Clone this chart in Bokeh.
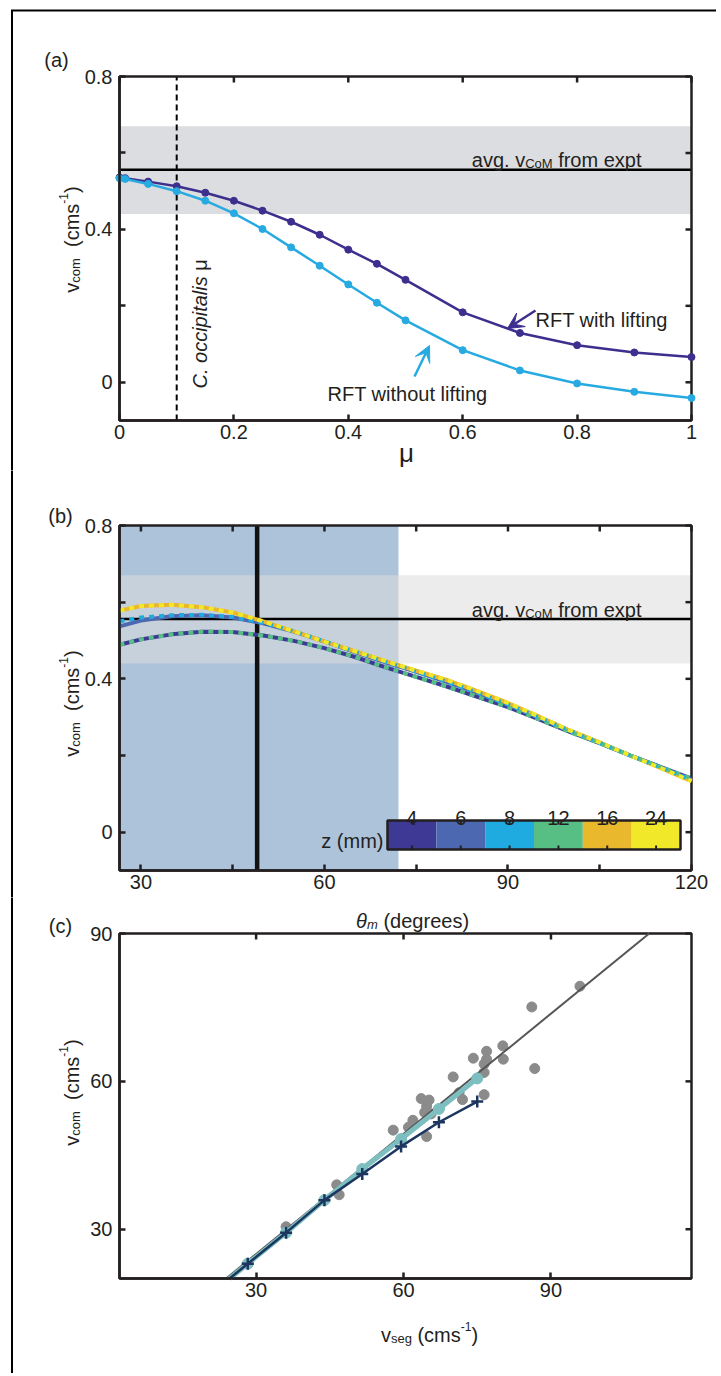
import math
from bokeh.plotting import figure
from bokeh.models import Range1d, LinearAxis, FixedTicker, Label, BoxAnnotation, Arrow, VeeHead
from bokeh.layouts import column
from bokeh.embed import file_html
from bokeh.resources import INLINE

FONT = "Liberation Sans"
INK = "#231f20"

# ---------------- data: panel (a) ----------------
mu = [0, 0.01, 0.05, 0.1, 0.15, 0.2, 0.25, 0.3, 0.35, 0.4, 0.45, 0.5, 0.6, 0.7, 0.8, 0.9, 1.0]
v_with_lifting = [0.536, 0.534, 0.525, 0.513, 0.496, 0.475, 0.449, 0.420, 0.386, 0.347,
                  0.310, 0.268, 0.183, 0.129, 0.097, 0.078, 0.066]
v_without_lifting = [0.534, 0.532, 0.519, 0.500, 0.475, 0.442, 0.401, 0.353, 0.305, 0.256,
                     0.208, 0.162, 0.084, 0.031, -0.003, -0.025, -0.041]
avg_vcom_expt = 0.556
avg_band_low, avg_band_high = 0.44, 0.67
mu_occipitalis = 0.1

# ---------------- data: panel (b) ----------------
theta_m = [26.5, 30, 35, 40, 45, 50, 55, 60, 65, 70, 75, 80, 85, 90, 95, 100, 105, 110, 115, 120]
z_labels = ["4", "6", "8", "12", "16", "24"]
z_colors = ["#3f3996", "#4c68b0", "#1fabe0", "#58bf84", "#e9b82c", "#f2e82a"]
v_z4 = [0.489, 0.503, 0.516, 0.523, 0.522, 0.513, 0.499, 0.480, 0.457, 0.430,
        0.405, 0.380, 0.353, 0.326, 0.295, 0.262, 0.232, 0.200, 0.170, 0.140]
v_z6 = [0.537, 0.552, 0.563, 0.566, 0.560, 0.545, 0.523, 0.497, 0.470, 0.443,
        0.418, 0.392, 0.364, 0.333, 0.300, 0.265, 0.233, 0.200, 0.169, 0.136]
v_z8 = [0.550, 0.560, 0.566, 0.567, 0.561, 0.546, 0.524, 0.498, 0.471, 0.444,
        0.419, 0.392, 0.364, 0.333, 0.300, 0.265, 0.233, 0.200, 0.169, 0.136]
v_z12 = [0.489, 0.503, 0.516, 0.523, 0.522, 0.513, 0.499, 0.480, 0.457, 0.430,
         0.405, 0.380, 0.353, 0.326, 0.295, 0.262, 0.232, 0.200, 0.170, 0.140]
v_z16 = [0.578, 0.590, 0.593, 0.587, 0.573, 0.550, 0.524, 0.497, 0.472, 0.446,
         0.421, 0.397, 0.368, 0.337, 0.302, 0.266, 0.234, 0.200, 0.167, 0.133]
v_z24 = [0.578, 0.590, 0.593, 0.587, 0.573, 0.550, 0.524, 0.497, 0.472, 0.446,
         0.421, 0.397, 0.368, 0.337, 0.302, 0.266, 0.234, 0.200, 0.167, 0.133]
theta_observed = 49.0
theta_shade_high = 72.1

# ---------------- data: panel (c) ----------------
vseg_expt = [95.9, 86.1, 80.2, 80.3, 76.9, 76.9, 76.4, 76.4, 74.2, 86.7, 70.1, 76.4, 71.3,
             72.0, 63.6, 65.2, 64.7, 64.3, 65.6, 61.9, 61.0, 57.9, 64.7, 46.4, 46.9, 36.1]
vcom_expt = [79.3, 75.1, 67.2, 64.5, 66.1, 64.5, 63.5, 61.8, 64.7, 62.6, 60.9, 57.3, 57.7,
             56.3, 56.5, 56.2, 55.0, 53.7, 53.4, 52.1, 50.7, 50.1, 48.8, 39.0, 37.0, 30.5]
vseg_model = [24.6, 28.3, 36.1, 43.9, 51.6, 59.5, 67.2, 75.0]
vcom_model_light = [20.0, 23.0, 29.3, 35.9, 42.2, 48.3, 54.4, 60.6]
vcom_model_dark = [20.0, 23.0, 29.3, 35.9, 41.2, 46.8, 51.7, 55.9]
fit_vseg = [23.9, 110.0]
fit_vcom = [20.0, 90.0]

C_LIFT = "#3d2f8e"
C_NOLIFT = "#27aae1"

# ---------------- page geometry (pixels) ----------------
PAGE_W = 716
BOX_L, BOX_R = 119, 691

W = {' ': .278, '.': .278, '(': .333, ')': .333, '-': .333, 'a': .556, 'b': .556, 'c': .5,
     'd': .556, 'e': .556, 'f': .278, 'g': .556, 'h': .556, 'i': .222, 'l': .222, 'm': .833,
     'n': .556, 'o': .556, 'p': .556, 'r': .333, 's': .5, 't': .278, 'u': .556, 'v': .5,
     'w': .722, 'x': .5, 'z': .5, 'C': .722, 'M': .833, 'R': .722, 'F': .611, 'T': .611,
     'μ': .576, 'θ': .556}


def tw(s, size):
    return sum(W.get(ch, 0.556) for ch in s) * size


class Panel:
    def __init__(self, top, h, box_t, box_b, xr, yr):
        self.top, self.h, self.box_t, self.box_b = top, h, box_t, box_b
        self.xr, self.yr = xr, yr
        self.sx = (xr[1] - xr[0]) / (BOX_R - BOX_L)
        self.sy = (yr[1] - yr[0]) / (box_b - box_t)
        self.p = figure(width=PAGE_W, height=h,
                        x_range=Range1d(self.X(0), self.X(PAGE_W)),
                        y_range=Range1d(self.Y(top + h), self.Y(top)),
                        x_axis_location=None, y_axis_location=None, min_border=0,
                        output_backend="svg", toolbar_location=None)
        self.p.grid.visible = False
        self.p.outline_line_color = None
        self.p.background_fill_color = "white"
        self.p.border_fill_color = "white"

    def X(self, px):
        return self.xr[0] + (px - BOX_L) * self.sx

    def Y(self, py):
        return self.yr[0] + (self.box_b - py) * self.sy

    def rich(self, pieces, px, py, angle=0.0, align="left", color=INK):
        widths = [tw(t, s) for t, s, _, _ in pieces]
        total = sum(widths)
        pos = {"left": 0.0, "center": -total / 2, "right": -total}[align]
        ca, sa = math.cos(angle), math.sin(angle)
        for (t, s, sh, st), w in zip(pieces, widths):
            body = t.lstrip(" ")
            q = pos + tw(t[:len(t) - len(body)], s)
            self.p.add_layout(Label(x=self.X(px), y=self.Y(py), text=body, angle=angle,
                                    x_offset=q * ca - sh * sa, y_offset=q * sa + sh * ca,
                                    text_font=FONT, text_font_size=f"{s}px",
                                    text_font_style=st, text_color=color, text_align="left",
                                    text_baseline="alphabetic"))
            pos += w

    def axes(self, xticks, yticks, xlabels=None, ylabels=None):
        p, xr, yr = self.p, self.xr, self.yr
        xa = LinearAxis(fixed_location=yr[0], bounds=xr)
        ya = LinearAxis(fixed_location=xr[0], bounds=yr)
        for ax, ticks, labs, so in ((xa, xticks, xlabels, 4), (ya, yticks, ylabels, 7)):
            ax.ticker = FixedTicker(ticks=ticks, minor_ticks=[])
            ax.major_tick_in = 6
            ax.major_tick_out = 0
            ax.minor_tick_in = 0
            ax.minor_tick_out = 0
            ax.axis_line_width = 2.5
            ax.axis_line_color = INK
            ax.major_tick_line_width = 2.5
            ax.major_tick_line_color = INK
            if labs:
                ax.major_label_overrides = labs
            ax.major_label_text_font = FONT
            ax.major_label_text_color = INK
            ax.major_label_text_font_size = "20px"
            ax.major_label_standoff = so
        p.add_layout(xa, "below")
        p.add_layout(ya, "left")
        p.quad(left=[xr[0]], right=[xr[1]], bottom=[yr[0]], top=[yr[1]], fill_color=None,
               line_color=INK, line_width=2.5)
        p.segment(x0=xticks, y0=yr[1], x1=xticks, y1=yr[1] - 6 * self.sy, line_color=INK,
                  line_width=2.5)
        p.segment(x0=xr[1], y0=yticks, x1=xr[1] - 6 * self.sx, y1=yticks, line_color=INK,
                  line_width=2.5)

    def page_border(self, with_top=False):
        p = self.p
        p.segment(x0=[self.X(11.5)], y0=[self.Y(self.top + self.h + 5)], x1=[self.X(11.5)],
                  y1=[self.Y(10 if with_top else self.top - 5)], line_color="black",
                  line_width=2)
        if with_top:
            p.segment(x0=[self.X(10.5)], y0=[self.Y(10)], x1=[self.X(PAGE_W + 5)],
                      y1=[self.Y(10)], line_color="black", line_width=2)

    def vlabel(self, px, py, sub):
        self.rich([("v", 20, 0, "normal"), (sub, 13, -4, "normal"),
                   ("  (cms", 20, 0, "normal"), ("-1", 12, 8, "normal"),
                   (")", 20, 0, "normal")], px, py, angle=math.pi / 2, align="center")


ylab_ab = {0: "0", 0.2: "", 0.4: "0.4", 0.6: "", 0.8: "0.8"}

# ================= panel (a) =================
A = Panel(0, 470, 76, 420, (0, 1), (-0.1, 0.8))
pa = A.p
pa.add_layout(BoxAnnotation(left=0, right=1, bottom=avg_band_low, top=avg_band_high,
                            fill_color="#dcdde0", fill_alpha=1, line_color=None,
                            level="underlay"))
pa.segment(x0=[0], y0=[avg_vcom_expt], x1=[1], y1=[avg_vcom_expt], line_color="black",
           line_width=2.5)
pa.segment(x0=[mu_occipitalis], y0=[-0.1], x1=[mu_occipitalis], y1=[0.8], line_color="black",
           line_width=2, line_dash="6 4")
A.axes([0, 0.2, 0.4, 0.6, 0.8, 1], [0, 0.2, 0.4, 0.6, 0.8],
       {0: "0", 0.2: "0.2", 0.4: "0.4", 0.6: "0.6", 0.8: "0.8", 1: "1"}, ylab_ab)
pa.line(mu, v_with_lifting, line_color=C_LIFT, line_width=2.5)
pa.scatter(mu, v_with_lifting, size=7, fill_color=C_LIFT, line_color=C_LIFT)
pa.line(mu, v_without_lifting, line_color=C_NOLIFT, line_width=2.5)
pa.scatter(mu, v_without_lifting, size=7, fill_color=C_NOLIFT, line_color=C_NOLIFT)

pa.add_layout(Arrow(x_start=A.X(535), y_start=A.Y(310), x_end=A.X(507), y_end=A.Y(328),
                    line_color=C_LIFT, line_width=2.5,
                    end=VeeHead(size=16, fill_color=C_LIFT, line_color=C_LIFT)))
pa.add_layout(Arrow(x_start=A.X(414), y_start=A.Y(376), x_end=A.X(429), y_end=A.Y(345),
                    line_color=C_NOLIFT, line_width=2.5,
                    end=VeeHead(size=16, fill_color=C_NOLIFT, line_color=C_NOLIFT)))
A.rich([("RFT with lifting", 20, 0, "normal")], 535, 319)
A.rich([("RFT without lifting", 20, 0, "normal")], 327, 393)
A.rich([("avg. v", 20, 0, "normal"), ("CoM", 13, -4, "normal"),
        (" from expt", 20, 0, "normal")], 641, 159, align="right")
A.rich([("C. occipitalis", 20, 0, "italic"), (" μ", 20, 0, "normal")], 199, 388,
       angle=math.pi / 2)
A.vlabel(71, 239, "com")
A.rich([("μ", 26, 0, "normal")], 406, 452, align="center")
A.rich([("(a)", 20, 0, "normal")], 56, 59, align="center")
A.page_border(with_top=True)

# ================= panel (b) =================
B = Panel(470, 427, 525, 870, (26.5, 120), (-0.1, 0.8))
pb = B.p
pb.add_layout(BoxAnnotation(left=26.5, right=theta_shade_high, bottom=-0.1, top=0.8,
                            fill_color="#adc3da", fill_alpha=1, line_color=None,
                            level="underlay"))
pb.add_layout(BoxAnnotation(left=26.5, right=120, bottom=avg_band_low, top=avg_band_high,
                            fill_color="#dcdcdc", fill_alpha=0.55, line_color=None,
                            level="underlay"))
pb.segment(x0=[26.5], y0=[avg_vcom_expt], x1=[120], y1=[avg_vcom_expt], line_color="black",
           line_width=2.5)
pb.segment(x0=[theta_observed], y0=[-0.1], x1=[theta_observed], y1=[0.8],
           line_color="#111111", line_width=4.5)
B.axes([30, 45, 60, 75, 90, 105, 120], [0, 0.2, 0.4, 0.6, 0.8], {45: "", 75: "", 105: ""},
       ylab_ab)
series = [v_z4, v_z6, v_z8, v_z12, v_z16, v_z24]
for i in (0, 1, 4):
    pb.line(theta_m, series[i], line_color=z_colors[i], line_width=4)
for i in (3, 2, 5):
    pb.line(theta_m, series[i], line_color=z_colors[i], line_width=4, line_dash="5 5")

cb_left, cb_right, cb_top, cb_bot = B.X(387), B.X(680), B.Y(820), B.Y(849)
step = (cb_right - cb_left) / len(z_labels)
lefts = [cb_left + k * step for k in range(len(z_labels))]
rights = [l + step for l in lefts]
centers = [l + step / 2 for l in lefts]
pb.quad(left=lefts, right=rights, bottom=cb_bot, top=cb_top, fill_color=z_colors,
        line_color=None)
pb.quad(left=[cb_left], right=[cb_right], bottom=[cb_bot], top=[cb_top], fill_color=None,
        line_color=INK, line_width=2.5)
pb.segment(x0=centers, y0=cb_top, x1=centers, y1=cb_top - 4 * B.sy, line_color=INK,
           line_width=2)
pb.segment(x0=centers, y0=cb_bot, x1=centers, y1=cb_bot + 4 * B.sy, line_color=INK,
           line_width=2)
for c, lab in zip(centers, z_labels):
    pb.add_layout(Label(x=c, y=B.Y(817), text=lab, text_font=FONT, text_font_size="20px",
                        text_color=INK, text_align="center", text_baseline="alphabetic"))
B.rich([("z (mm)", 20, 0, "normal")], 383, 840, align="right")
B.rich([("avg. v", 20, 0, "normal"), ("CoM", 13, -4, "normal"),
        (" from expt", 20, 0, "normal")], 641, 609, align="right")
B.vlabel(71, 703, "com")
B.rich([("(b)", 20, 0, "normal")], 60, 515, align="center")
B.page_border()

# ================= panel (c) =================
Cp = Panel(897, 476, 933, 1278, (2.2, 118.6), (20, 90))
pc = Cp.p
Cp.axes([30, 60, 90], [30, 60, 90])
pc.scatter(vseg_expt, vcom_expt, size=10, fill_color="#8b8b8b", line_color="#8b8b8b")
pc.line(fit_vseg, fit_vcom, line_color="#555555", line_width=2)
pc.line(vseg_model, vcom_model_light, line_color="#7dbfc0", line_width=5)
pc.scatter(vseg_model[1:], vcom_model_light[1:], size=11, fill_color="#7dbfc0",
           line_color="#7dbfc0")
pc.line(vseg_model, vcom_model_dark, line_color="#1c365f", line_width=2.5)
pc.scatter(vseg_model[1:], vcom_model_dark[1:], marker="cross", size=12,
           line_color="#1c365f", line_width=2.5)
Cp.vlabel(71, 1092, "com")
Cp.rich([("v", 20, 0, "normal"), ("seg", 13, -4, "normal"), (" (cms", 20, 0, "normal"),
         ("-1", 12, 8, "normal"), (")", 20, 0, "normal")], 429, 1334, align="center")
Cp.rich([("θ", 20, 0, "italic"), ("m", 13, -4, "italic"), (" (degrees)", 20, 0, "normal")],
        412, 920, align="center")
Cp.rich([("(c)", 20, 0, "normal")], 60, 925, align="center")
Cp.page_border()

layout = column(pa, pb, pc, spacing=0)
open("out.html", "w").write(file_html(layout, INLINE))
